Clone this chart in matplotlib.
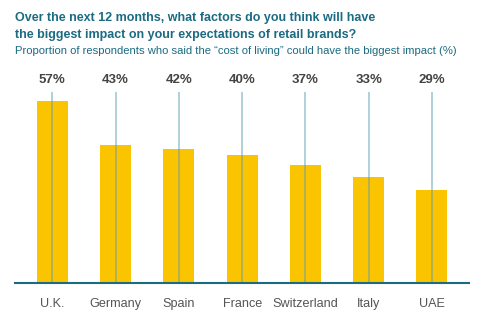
import matplotlib.pyplot as plt
import numpy as np

countries = ['U.K.', 'Germany', 'Spain', 'France', 'Switzerland', 'Italy', 'UAE']
share = [57, 43, 42, 40, 37, 33, 29]

TEAL = '#1b6b82'
YELLOW = '#fbc400'

plt.rcParams['font.family'] = ['Liberation Sans', 'DejaVu Sans']

fig = plt.figure(figsize=(4.8, 3.32), dpi=100)
ax = fig.add_axes([0.031, 0.1476, 0.946, 0.575])

x = np.arange(len(countries))
ax.bar(x, share, width=0.49, color=YELLOW, zorder=1)

# thin guide lines from the value label down to the baseline
ymax = 59.7
ax.vlines(x, 0, ymax, color='#5c9cb3', alpha=0.6, linewidth=1.1, zorder=2)

for xi, v in zip(x, share):
    ax.text(xi, 63.4, f'{v}%', ha='center', va='center', fontsize=9.5,
            fontweight='bold', color='#444444', clip_on=False)

ax.set_xlim(-0.593, 6.585)
ax.set_ylim(0, ymax)
ax.set_xticks(x)
ax.set_xticklabels(countries, fontsize=9.1, color='#555555')
ax.tick_params(axis='x', length=0, pad=11)
ax.set_yticks([])
for side in ['top', 'right', 'left']:
    ax.spines[side].set_visible(False)
ax.spines['bottom'].set_color(TEAL)
ax.spines['bottom'].set_linewidth(1.5)

fig.text(0.031, 0.946, 'Over the next 12 months, what factors do you think will have',
         ha='left', va='center', fontsize=9.0, fontweight='bold', color=TEAL)
fig.text(0.031, 0.895, 'the biggest impact on your expectations of retail brands?',
         ha='left', va='center', fontsize=9.0, fontweight='bold', color=TEAL)
fig.text(0.031, 0.846, 'Proportion of respondents who said the \u201ccost of living\u201d '
         'could have the biggest impact (%)',
         ha='left', va='center', fontsize=8.1, color=TEAL)

fig.savefig('out.png', dpi=100)
